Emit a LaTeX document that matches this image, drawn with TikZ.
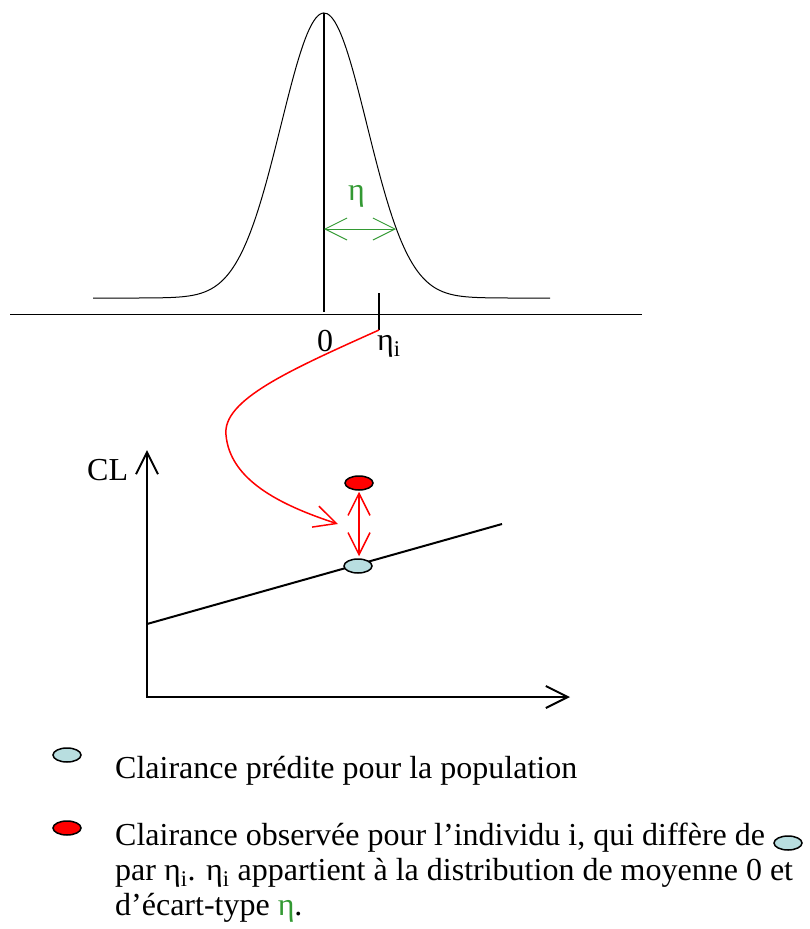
\documentclass[tikz,border=0pt]{standalone}
\usepackage{fontspec}
\setmainfont{Liberation Serif}
\usetikzlibrary{arrows.meta,shapes.geometric}
\definecolor{grn}{HTML}{339933}
\definecolor{rd}{HTML}{FF0000}
\definecolor{pop}{HTML}{B8DEE0}
\tikzset{
  lbl/.style={font=\fontsize{32}{35}\selectfont,inner sep=0pt},
  dot/.style={ellipse,draw=black,line width=1.5pt,minimum width=28pt,minimum height=14pt,inner sep=0pt},
  popdot/.style={dot,fill=pop},
  obsdot/.style={dot,fill=rd},
  barb/.tip={Straight Barb[length=22pt,width=22pt]},
  ax/.style={barb-barb,line width=2pt},
  rar/.style={barb-barb,draw=rd,line width=1.5pt},
  gar/.style={barb-barb,draw=grn,line width=1pt},
}
\begin{document}
\begin{tikzpicture}[x=1pt,y=-1pt]
\useasboundingbox (0,0) rectangle (809,929);
\draw[line width=1pt] (10,314) coordinate (b0) -- (642,314) coordinate (b1);
\draw[line width=1pt,domain=93:550,samples=120,smooth]
  plot (\x,{298-285*exp(-0.5*((\x-324)/43)^2)});
\coordinate (peak) at (324,13);
\coordinate (zero) at (324,312);
\draw[line width=2pt] (peak) -- (zero);
\coordinate (tick0) at (379,293);
\coordinate (etai) at (379,330);
\draw[line width=2pt] (tick0) -- (etai);
\node[lbl,anchor=base] (lzero) at (325,351) {0};
\node[lbl,anchor=base west] (letai) at (377,350) {η\textsubscript{i}};
\coordinate (sd0) at (324,229);
\coordinate (sd1) at (396,229);
\draw[gar] (sd0) -- (sd1);
\node[lbl,anchor=base west,text=grn] (leta) at (348,200) {η};
\coordinate (o) at (147,697);
\coordinate (ytop) at (147,450);
\coordinate (xend) at (570,697);
\draw[ax] (ytop) -- (o) -- (xend);
\node[lbl,anchor=base west] (cl) at (87,480) {CL};
\draw[line width=2pt] (147,624) coordinate (r0) -- (502,524) coordinate (r1);
\node[popdot] (pred) at (358,566) {};
\node[obsdot] (obs) at (359,483) {};
\draw[rar,shorten <=1pt,shorten >=2pt] (obs.south) -- (obs.south |- pred.north);
\coordinate (hit) at (338,524);
\draw[draw=rd,line width=1.5pt,-barb] (etai) .. controls (290,370) and (222,400) .. (226,435)
  .. controls (230,480) and (280,505) .. (hit);
\node[popdot] (k1) at (67,755) {};
\node[lbl,anchor=base west] (t1) at (115,778) {Clairance prédite pour la population};
\node[obsdot] (k2) at (67,828) {};
\node[lbl,anchor=base west] (t2) at (115,845) {Clairance observée pour l’individu i, qui diffère de};
\node[popdot] (k3) at (788,843) {};
\node[lbl,anchor=base west] (t3) at (115,880) {par η\textsubscript{i}. η\textsubscript{i} appartient à la distribution de moyenne 0 et};
\node[lbl,anchor=base west] (t4) at (115,915) {d’écart-type \textcolor{grn}{η}.};
\end{tikzpicture}
\end{document}
